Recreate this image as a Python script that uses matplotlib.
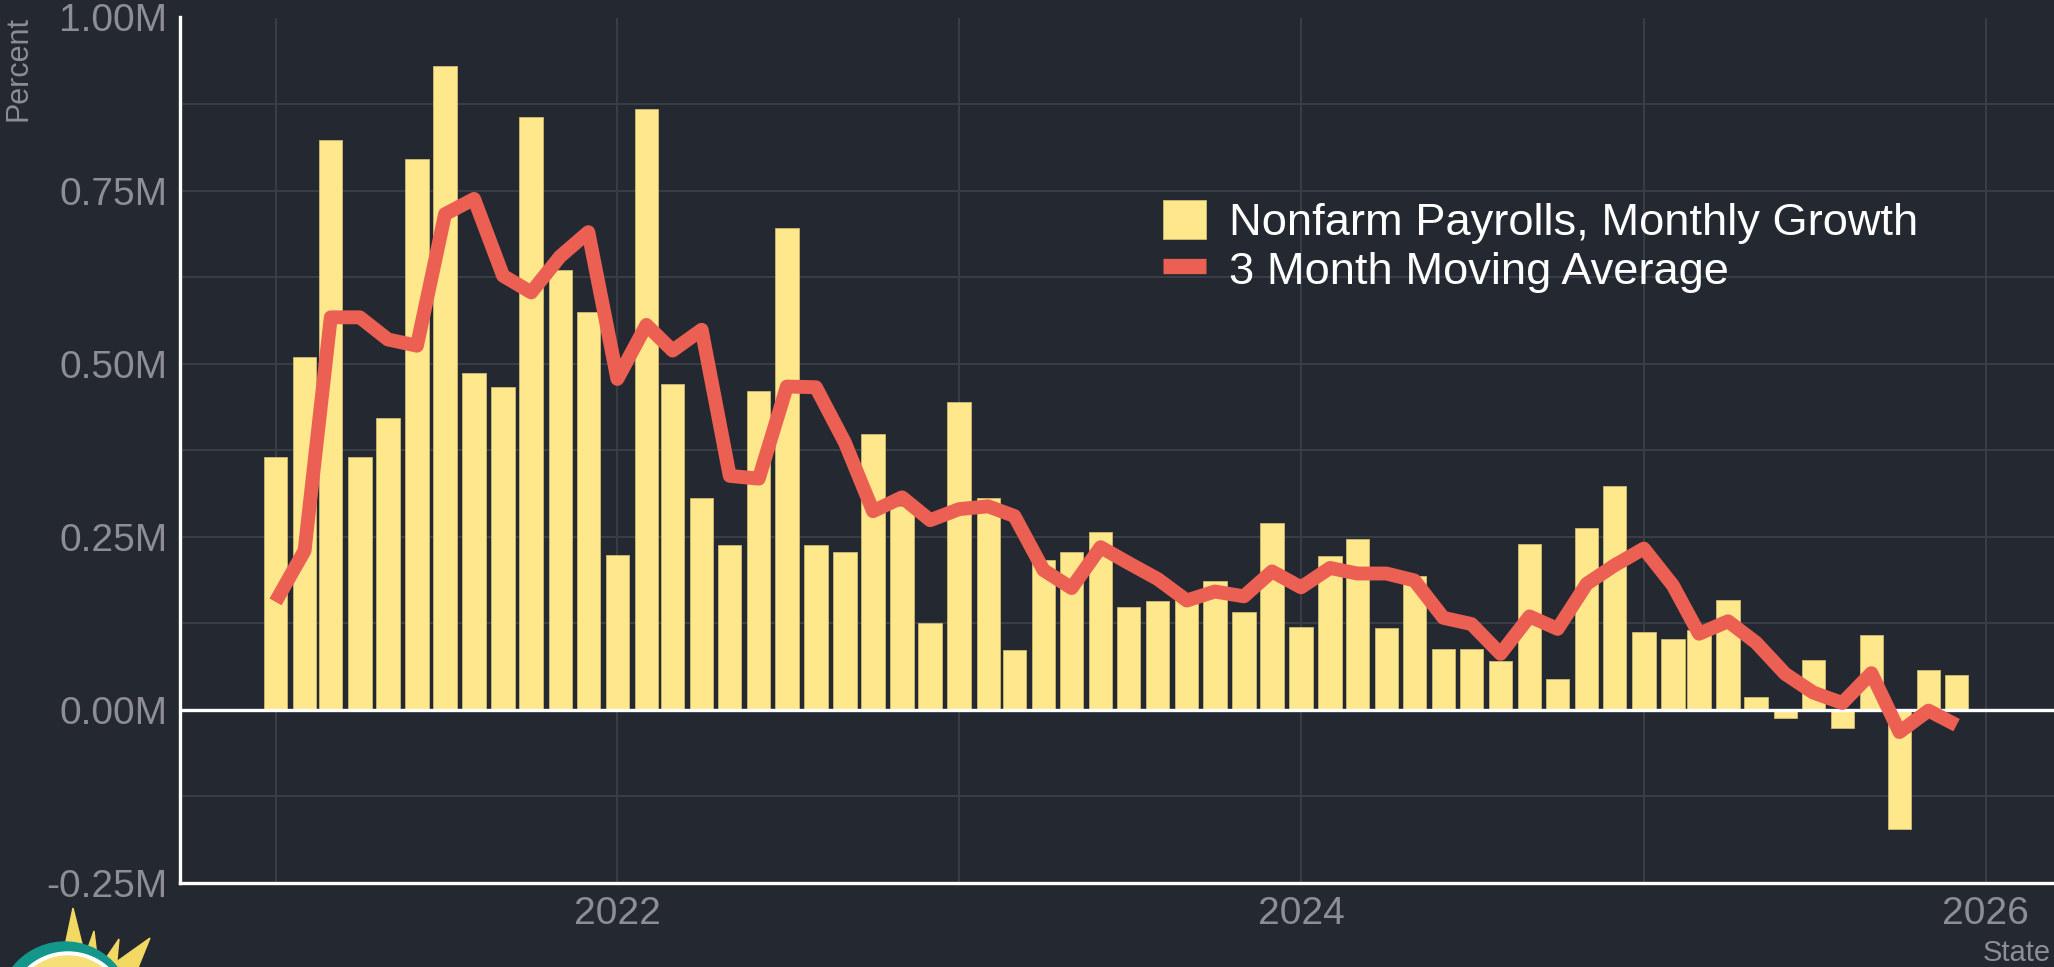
import matplotlib
matplotlib.use('Agg')
import matplotlib.pyplot as plt
import matplotlib.dates as mdates
import numpy as np
import pandas as pd
from matplotlib.patches import Polygon, Circle, Patch
from matplotlib.lines import Line2D
from matplotlib.ticker import FuncFormatter, MultipleLocator

# ---------------- data (millions of jobs) ----------------
months = pd.date_range('2021-01-01', '2025-12-01', freq='MS')
payrolls_m = [
    0.365, 0.509, 0.823, 0.365, 0.421, 0.795, 0.930, 0.486, 0.466, 0.857, 0.636, 0.575,
    0.223, 0.868, 0.470, 0.306, 0.238, 0.460, 0.696, 0.238, 0.228, 0.399, 0.294, 0.126,
    0.444, 0.306, 0.086, 0.217, 0.228, 0.257, 0.149, 0.158, 0.168, 0.186, 0.141, 0.270,
    0.120, 0.222, 0.247, 0.118, 0.194, 0.088, 0.088, 0.071, 0.240, 0.044, 0.262, 0.323,
    0.112, 0.103, 0.115, 0.159, 0.019, -0.012, 0.072, -0.026, 0.108, -0.172, 0.057, 0.051,
]
moving_avg_m = [
    0.156, 0.230, 0.567, 0.567, 0.535, 0.526, 0.716, 0.738, 0.627, 0.603, 0.655, 0.690,
    0.478, 0.556, 0.519, 0.549, 0.338, 0.334, 0.467, 0.466, 0.386, 0.287, 0.307, 0.274,
    0.290, 0.294, 0.280, 0.202, 0.176, 0.235, 0.212, 0.189, 0.158, 0.171, 0.164, 0.200,
    0.177, 0.205, 0.197, 0.197, 0.187, 0.133, 0.124, 0.081, 0.135, 0.117, 0.182, 0.209,
    0.233, 0.180, 0.110, 0.128, 0.097, 0.052, 0.025, 0.010, 0.053, -0.032, -0.001, -0.022,
]
series_labels = ['Nonfarm Payrolls, Monthly Growth', '3 Month Moving Average']
year_grid = ['2021', '2022', '2023', '2024', '2025', '2026']
year_labels = ['2022', '2024', '2026']
y_label = 'Percent'
source_text = 'State'

# ---------------- style ----------------
BG = '#242831'
GRID = '#3a3e47'
BAR = '#fee88b'
BAR_EDGE = '#cdbb72'
LINE = '#ec5f53'
TICK = '#8c8e94'
FONT = 'Liberation Sans'
plt.rcParams['font.family'] = [FONT, 'DejaVu Sans']

W, H = 2054, 967
fig = plt.figure(figsize=(W / 100, H / 100), dpi=100, facecolor=BG)
ax_l, ax_r, ax_t, ax_b = 180, W, 17.5, 883
ax = fig.add_axes([ax_l / W, 1 - ax_b / H, (ax_r - ax_l) / W, (ax_b - ax_t) / H])
ax.set_facecolor(BG)

ax.bar(months, payrolls_m, width=25, color=BAR, edgecolor=BAR_EDGE, linewidth=0.6, zorder=2)
ax.axhline(0, color='white', lw=2.4, zorder=3)
ax.plot(months, moving_avg_m, color=LINE, lw=10, solid_joinstyle='round',
        solid_capstyle='butt', zorder=4)

ax.set_ylim(-0.25, 1.0)
ax.set_xlim(pd.Timestamp('2020-09-21'), pd.Timestamp('2026-03-15'))

ax.yaxis.set_major_locator(MultipleLocator(0.25))
ax.yaxis.set_minor_locator(MultipleLocator(0.125))
ax.yaxis.set_major_formatter(FuncFormatter(lambda v, p: f'{v:.2f}M'))
ax.set_xticks([pd.Timestamp(y + '-01-01') for y in year_labels])
ax.set_xticklabels(year_labels)
ax.set_xticks([pd.Timestamp(y + '-01-01') for y in year_grid], minor=True)

ax.grid(True, which='both', color=GRID, lw=1.4, zorder=0)
ax.set_axisbelow(True)
ax.tick_params(which='both', length=0)
ax.tick_params(axis='y', labelsize=28, labelcolor=TICK, pad=9)
ax.tick_params(axis='x', labelsize=28, labelcolor=TICK, pad=9)
for lab in ax.get_xticklabels() + ax.get_yticklabels():
    lab.set_fontfamily(FONT)

for s in ['top', 'right']:
    ax.spines[s].set_visible(False)
for s in ['left', 'bottom']:
    ax.spines[s].set_color('white')
    ax.spines[s].set_linewidth(2.4)

handles = [Patch(facecolor=BAR, edgecolor=BAR_EDGE, linewidth=0.6),
           Line2D([], [], color=LINE, lw=11, solid_capstyle='butt')]
leg = ax.legend(handles, series_labels, loc='upper left',
                bbox_to_anchor=((1163 - ax_l) / (ax_r - ax_l), (ax_b - 200) / (ax_b - ax_t)),
                frameon=False, fontsize=32.6, handlelength=0.95, handleheight=0.95,
                handletextpad=0.5, labelspacing=0.1, borderpad=0, borderaxespad=0,
                labelcolor='white')

fig.text(18.5 / W, 1 - 16 / H, y_label, rotation=90, ha='center', va='top',
         fontsize=22, color=TICK, family=FONT)
fig.text(1983 / W, 1 - 953 / H, source_text, ha='left', va='center',
         fontsize=21, color=TICK, family=FONT)

# ---------------- logo (bottom-left) ----------------
lax = fig.add_axes([0, 0, 1, 1], zorder=5)
lax.set_xlim(0, W)
lax.set_ylim(H, 0)
lax.axis('off')
lax.patch.set_alpha(0)
spikes = [
    [(73, 908), (62, 960), (86, 960)],
    [(94, 931), (82, 965), (98, 965)],
    [(119, 939), (98, 970), (116, 970)],
    [(150, 938), (105, 970), (135, 975)],
]
for sp in spikes:
    lax.add_patch(Polygon(sp, closed=True, color='#f3d862', zorder=1))
lax.add_patch(Circle((65, 1008.6), 66.6, color='#13978b', zorder=2))
lax.add_patch(Circle((68, 1012), 60, color='white', zorder=3))
lax.add_patch(Circle((68, 1012), 56, color='#f7df78', zorder=4))

fig.savefig('out.png', dpi=100, facecolor=BG)
